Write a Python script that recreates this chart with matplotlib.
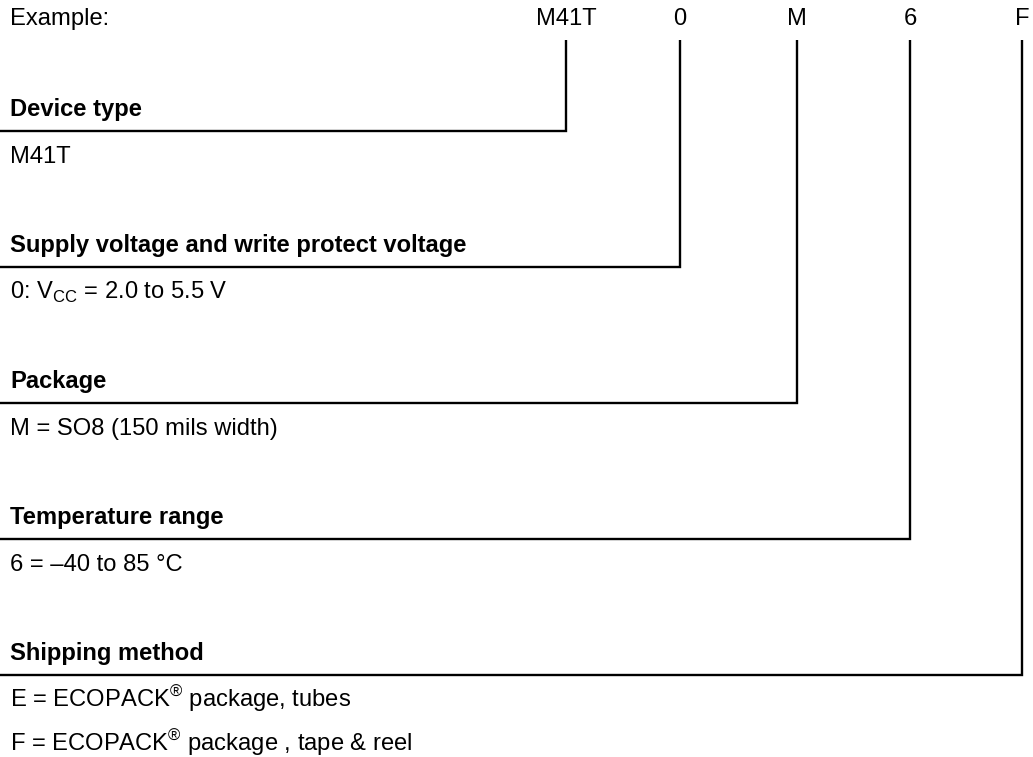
import matplotlib
matplotlib.use('Agg')
import matplotlib.pyplot as plt

plt.rcParams['font.family'] = ['Liberation Sans', 'DejaVu Sans']

# Ordering code pieces and where their leader lines drop down
codes = ['M41T', '0', 'M', '6', 'F']
code_x = [566, 680, 797, 910, 1022]

# One block per code piece: heading, the rule under it, description lines
headings = ['Device type',
            'Supply voltage and write protect voltage',
            'Package',
            'Temperature range',
            'Shipping method']
rule_y = [131, 267, 403, 539, 675]
descriptions = [
    ['M41T'],
    ['0: V$_\\mathregular{CC}$ = 2.0 to 5.5 V'],
    ['M = SO8 (150 mils width)'],
    ['6 = \u201340 to 85 \u00b0C'],
    ['E = ECOPACK$^\\mathregular{\u00ae}$ package, tubes',
     'F = ECOPACK$^\\mathregular{\u00ae}$ package , tape & reel'],
]

W, H = 1033, 757
fig = plt.figure(figsize=(W / 100, H / 100), dpi=100)
ax = fig.add_axes([0, 0, 1, 1])
ax.set_xlim(0, W)
ax.set_ylim(H, 0)
ax.axis('off')

fs = 17.1
lw = 1.7
top_y = 40

ax.text(10, 25, 'Example:', fontsize=fs, ha='left', va='baseline')
for c, x in zip(codes, code_x):
    ax.text(x, 25, c, fontsize=fs, ha='center', va='baseline')

for i, (head, y, desc) in enumerate(zip(headings, rule_y, descriptions)):
    # leader line: down from the code letter, then left along the rule
    x = code_x[i]
    ax.plot([0, x, x], [y, y, top_y], color='black', lw=lw,
            solid_joinstyle='miter', solid_capstyle='butt')
    ax.text(10, y - 15, head, fontsize=fs, fontweight='bold',
            ha='left', va='baseline')
    for j, line in enumerate(desc):
        ax.text(10, y + 32 + 44 * j, line, fontsize=fs,
                ha='left', va='baseline')

fig.savefig('out.png', dpi=100)
